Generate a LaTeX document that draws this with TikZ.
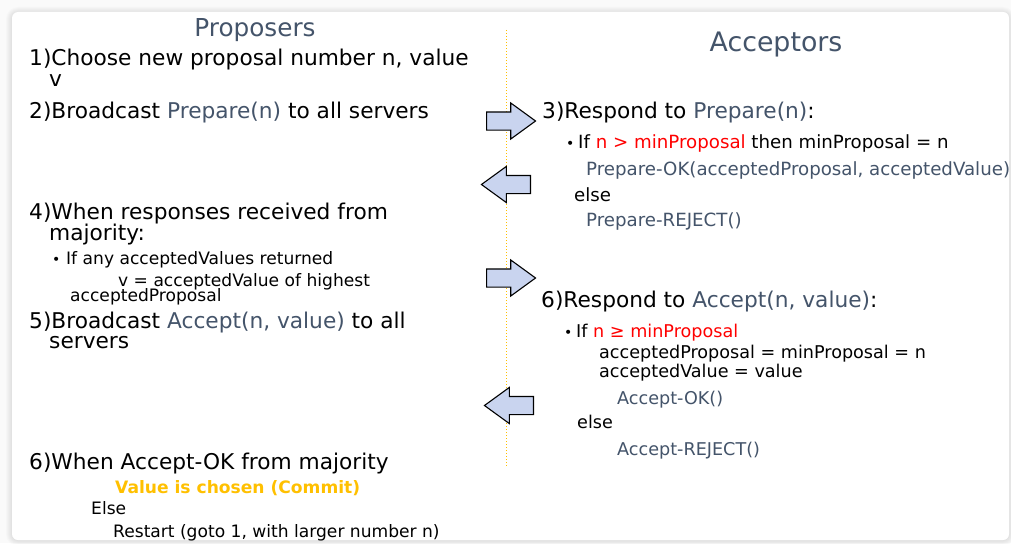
\documentclass[tikz,border=0pt]{standalone}
\usepackage{fontspec}
\setmainfont{DejaVu Sans}
\usetikzlibrary{shapes.arrows}

\definecolor{slate}{HTML}{44546A}
\definecolor{warn}{HTML}{FF0000}
\definecolor{gold}{HTML}{FFC000}
\definecolor{msgblue}{HTML}{C9D4EF}

\begin{document}
\begin{tikzpicture}[x=1pt, y=-1pt,
        item/.style={anchor=base west, inner sep=0pt, font=\fontsize{21.7}{24}\selectfont},
        detail/.style={anchor=base west, inner sep=0pt, font=\fontsize{17.6}{20}\selectfont},
        smalltxt/.style={anchor=base west, inner sep=0pt, font=\fontsize{17.1}{19}\selectfont},
        bul/.style={anchor=base west, inner sep=0pt, font=\fontsize{14}{16}\selectfont},
        heading/.style={anchor=base, inner sep=0pt, text=slate},
        msg/.style={single arrow, draw=black, line width=1.1pt, fill=msgblue, minimum height=49pt, minimum width=35pt, single arrow head extend=9pt, single arrow tip angle=72, inner xsep=0pt, inner ysep=8.5pt, anchor=tail},
        reply/.style={msg, shape border rotate=180}
    ]
        \useasboundingbox (0,0) rectangle (1011,543);
        \fill[gray!4] (0,0) rectangle (1011,543);

        % Card with soft shadow
        \foreach \s in {1,...,6}
            \fill[black, opacity=0.014, rounded corners={(6+\s)*1pt}] (12-\s,12-\s+1) rectangle (1009+\s,540+\s);
        \fill[white, rounded corners=6pt] (12,12) rectangle (1009,540);

        % Headings
        \node[heading, font=\fontsize{24.7}{28}\selectfont] (prop) at (255,37) {Proposers};
        \node[heading, font=\fontsize{26.8}{30}\selectfont] (acc) at (776,52) {Acceptors};

        % Divider
        \coordinate (top) at (506,30);
        \coordinate (bot) at (506,466);
        \draw[gold, line width=1pt, dotted] (top) -- (bot);

        % Proposer steps
        \node[item] (s1) at (29,65) {1)Choose new proposal number n, value};
        \node[item] (s1b) at (49,86) {v};
        \node[item] (s2) at (29,118) {2)Broadcast {\color{slate}Prepare(n)} to all servers};

        \node[item] (s4) at (29,219) {4)When responses received from};
        \node[item] (s4b) at (49,240) {majority:};
        \node[bul] (b4) at (52,264) {•};
        \node[smalltxt] (s4c) at (66,264) {If any acceptedValues returned};
        \node[smalltxt] (s4d) at (118,286) {v = acceptedValue of highest};
        \node[smalltxt] (s4e) at (70,301) {acceptedProposal};

        \node[item] (s5) at (29,328) {5)Broadcast {\color{slate}Accept(n, value)} to all};
        \node[item] (s5b) at (49,348) {servers};

        \node[item] (s7) at (29,469) {6)When Accept-OK from majority};
        \node[smalltxt, text=gold, font=\fontsize{17.1}{19}\selectfont\bfseries] (s7b) at (115,493) {Value is chosen (Commit)};
        \node[smalltxt] (s7c) at (91,514) {Else};
        \node[smalltxt] (s7d) at (113,537) {Restart (goto 1, with larger number n)};

        % Acceptor steps
        \node[item] (s3) at (542,118) {3)Respond to {\color{slate}Prepare(n)}:};
        \node[bul] (b3) at (566,148) {•};
        \node[detail, font=\fontsize{18.2}{20}\selectfont] (s3b) at (578,148) {If {\color{warn}n > minProposal} then minProposal = n};
        \node[detail, font=\fontsize{18.2}{20}\selectfont, text=slate] (s3c) at (586,175) {Prepare-OK(acceptedProposal, acceptedValue)};
        \node[detail, font=\fontsize{18.2}{20}\selectfont] (s3d) at (574,201) {else};
        \node[detail, font=\fontsize{18.2}{20}\selectfont, text=slate] (s3e) at (586,226) {Prepare-REJECT()};

        \node[item] (s6) at (541,307) {6)Respond to {\color{slate}Accept(n, value)}:};
        \node[bul] (b6) at (564,337) {•};
        \node[detail] (s6b) at (576,337) {If {\color{warn}n ≥ minProposal}};
        \node[detail] (s6c) at (599,358) {acceptedProposal = minProposal = n};
        \node[detail] (s6d) at (599,377) {acceptedValue = value};
        \node[detail, text=slate] (s6e) at (617,404) {Accept-OK()};
        \node[detail] (s6f) at (577,428) {else};
        \node[detail, text=slate] (s6g) at (617,455) {Accept-REJECT()};

        % Messages
        \node[msg] (m1) at (486,121) {};
        \node[reply] (m2) at (531,184.5) {};
        \node[msg] (m3) at (486,278) {};
        \node[reply] (m4) at (534,405.5) {};
    \end{tikzpicture}
\end{document}
